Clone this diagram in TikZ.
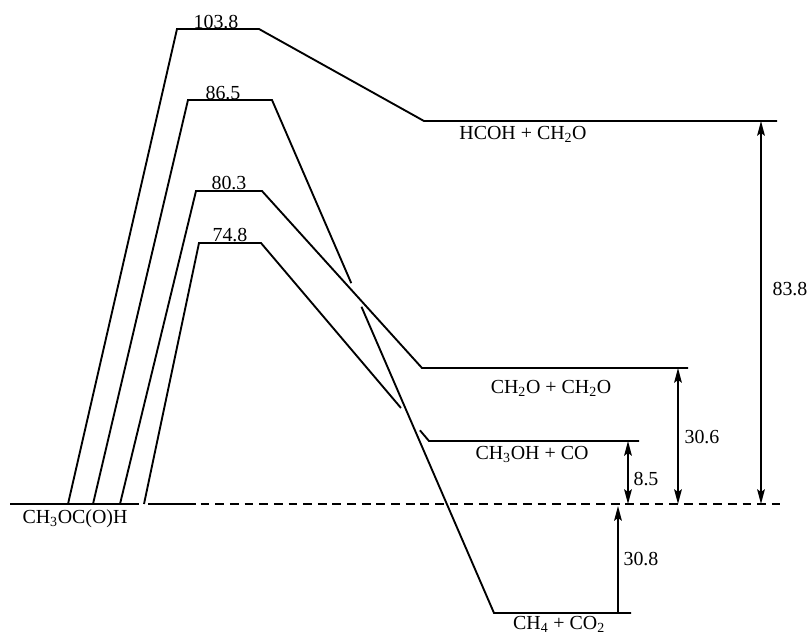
\documentclass[tikz,border=0pt]{standalone}
\usepackage{fontspec}
\setmainfont{Liberation Serif}
\usetikzlibrary{arrows.meta,calc}

\begin{document}
\begin{tikzpicture}[x=0.03cm, y=-0.03cm, line width=1.6pt,
    >={Stealth[length=4.4mm,width=2.3mm,inset=0.8mm]},
    lbl/.style={font=\fontsize{17}{20}\selectfont, inner sep=0pt, anchor=base}]
    \useasboundingbox (0,0) rectangle (809,635);

    % Points of the four paths
    \coordinate (a0) at (68,504);  \coordinate (a1) at (177,29);
    \coordinate (a2) at (259,29);  \coordinate (a3) at (424,121);
    \coordinate (a4) at (777,121);
    \coordinate (b0) at (93,504);  \coordinate (b1) at (188,100);
    \coordinate (b2) at (272,100); \coordinate (b3) at (494,613);
    \coordinate (b4) at (631,613);
    \coordinate (c0) at (120,504); \coordinate (c1) at (196,191);
    \coordinate (c2) at (262,191); \coordinate (c3) at (422,368);
    \coordinate (c4) at (688,368);
    \coordinate (d0) at (144,504); \coordinate (d1) at (199,243);
    \coordinate (d2) at (261,243); \coordinate (d3) at (429,441);
    \coordinate (d4) at (639,441);

    % Reference level
    \coordinate (l0) at (10,504);  \coordinate (l1) at (139,504);
    \coordinate (l2) at (148,504); \coordinate (l3) at (196,504);
    \coordinate (l4) at (780,504);
    \draw (l0) -- (l1);
    \draw (l2) -- (l3);
    \draw[dash pattern=on 7.5pt off 5pt, dash phase=-4pt] (l3) -- (l4);

    % Paths
    \draw (a0) -- (a1) -- (a2) -- (a3) -- (a4);
    \draw (b0) -- (b1) -- (b2) -- ($(b2)!0.357!(b3)$);
    \draw ($(b2)!0.403!(b3)$) -- (b3) -- (b4);
    \draw (c0) -- (c1) -- (c2) -- (c3) -- (c4);
    \draw (d0) -- (d1) -- (d2) -- ($(d2)!0.833!(d3)$);
    \draw ($(d2)!0.946!(d3)$) -- (d3) -- (d4);

    % Barrier heights
    \node[lbl] (ta) at (216,28) {103.8};
    \node[lbl] (tb) at (223,99) {86.5};
    \node[lbl] (tc) at (229,189) {80.3};
    \node[lbl] (td) at (230,241) {74.8};

    % Species
    \node[lbl] (re) at (75,523) {CH\textsubscript{3}OC(O)H};
    \node[lbl] (pa) at (523,139) {HCOH + CH\textsubscript{2}O};
    \node[lbl] (pc) at (551,393) {CH\textsubscript{2}O + CH\textsubscript{2}O};
    \node[lbl] (pd) at (532,459) {CH\textsubscript{3}OH + CO};
    \node[lbl] (pb) at (559,629) {CH\textsubscript{4} + CO\textsubscript{2}};

    % Reaction energies
    \coordinate (z1) at (761,504); \coordinate (z2) at (678,504);
    \coordinate (z3) at (628,504); \coordinate (z4) at (618,506);
    \draw[<->] (z1 |- a4) -- (z1);
    \draw[<->] (z2 |- c4) -- (z2);
    \draw[<->] (z3 |- d4) -- (z3);
    \draw[->] (z4 |- b4) -- (z4);
    \node[lbl] (ea) at (790,295) {83.8};
    \node[lbl] (ec) at (702,443) {30.6};
    \node[lbl] (ed) at (646,485) {8.5};
    \node[lbl] (eb) at (641,565) {30.8};
\end{tikzpicture}
\end{document}
